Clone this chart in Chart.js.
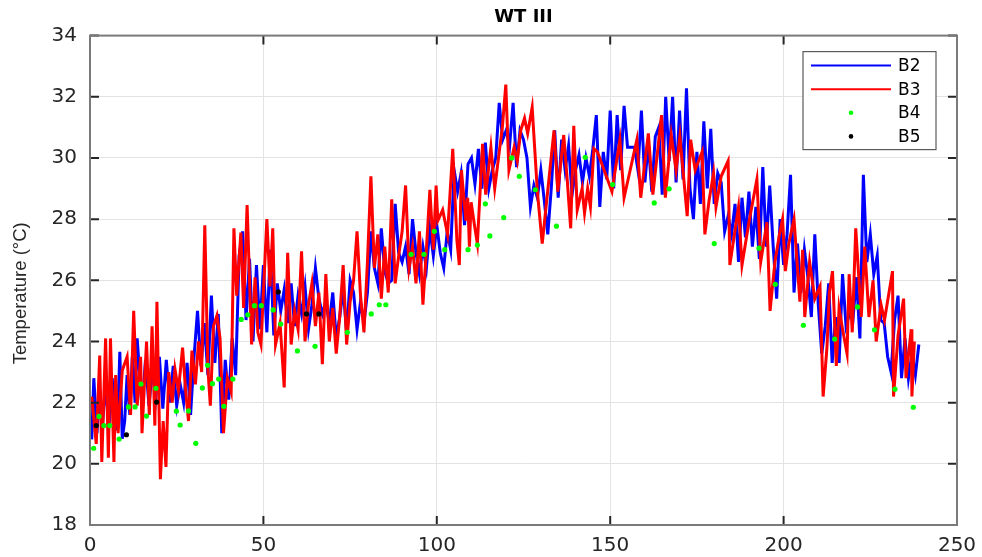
<!DOCTYPE html>
<html><head><meta charset="utf-8">
<script src="https://cdn.jsdelivr.net/npm/chart.js@4/dist/chart.umd.min.js"></script>
<style>html,body{margin:0;padding:0;background:#fff;}</style>
</head><body>
<canvas id="c" width="982" height="557"></canvas>
<script>
const chartTitle = 'WT III';
const yAxisTitle = 'Temperature (°C)';
const xTicks = [0, 50, 100, 150, 200, 250];
const yTicks = [18, 20, 22, 24, 26, 28, 30, 32, 34];
const seriesNames = ['B2', 'B3', 'B4', 'B5'];

const b2Days = [
  0.5,1.1,2,2.8,3.5,4.5,5.5,6.4,7.3,7.9,8.6,9.3,10,10.7,11.5,12.2,13,13.6,15,16,17,18,19,20,
  21,22,23,24,25,26,27,28,29,30,31,32,33,34,35,36,37,38,39,40,
  41,42,43,44,45,46,47,48,49,50,51,52,53,54,55,56,57,58,59,60,
  61,62,63,64,65,66,67,68,69,70,71,72,73,74,75,76,77,78,79,80,
  81,82,83,84,85,86,87,88,89,90,91,92,93,94,95,96,97,98,99,100,
  101,102,103,104,105,106,107,108,109,110,111,112,113,114,115,116,117,118,119,120,
  121,122,123,124,125,126,127,128,129,130,131,132,133,134,135,136,137,138,139,140,
  141,142,143,144,145,146,147,148,149,150,151,152,153,154,155,157,158,159,160,
  161,162,163,164,165,166,167,168,169,170,171,172,173,174,175,176,177,178,179,180,
  181,182,183,184,185,186,187,188,189,190,191,192,193,194,195,196,197,198,199,200,
  201,202,203,204,205,206,207,208,209,210,211,212,213,214,215,216,217,218,219,220,
  221,222,223,224,225,226,227,228,229,230,231,232,233,234,235,236,237,238,239
];
const b2Temps = [
  20.8,22.8,21.0,22.45,21.2,22.5,21.3,22.8,21.5,21.1,23.66,20.82,21.4,22.9,21.6,23.5,22.0,24.1,21.8,23.4,21.9,23.1,22.2,23.5,
  21.8,23.4,22.0,23.2,21.9,22.6,22.0,23.3,21.6,23.5, 25.0,23.2,24.6,22.9,25.5,23.3,24.9,21.0,23.4,22.1,
  24.1,22.9,26.8,27.6,24.7,26.7,24.0,26.5,24.4,26.5, 24.3,27.0,24.2,25.9,25.0,25.7,24.6,25.9,24.5,25.5,
  24.9,25.8,24.4,25.2,26.4,25.4,24.9,25.3,24.6,25.6, 24.1,24.8,25.7,24.3,26.0,25.6,24.4,25.3,24.6,25.6,
  27.6,26.4,25.9,27.7,26.3,25.9,26.0,28.5,26.9,26.6, 27.1,26.2,28.0,26.9,26.2,27.1,26.4,27.7,26.8,27.8,
  26.9,26.4,27.6,27.0,29.6,28.9,29.5,27.8,29.8,30.0, 29.15,30.3,29.0,30.5,29.0,29.6,30.0,31.8,30.6,30.9,
  30.4,31.8,29.7,30.9,30.6,30.0,28.4,29.1,28.7,29.6, 28.6,27.5,29.0,30.9,28.7,30.6,29.6,30.4,28.8,29.6,
  30.1,29.2,30.0,29.4,30.3,31.4,28.4,30.2,29.3,31.55, 29.0,31.4,29.6,31.7,30.35,30.35,29.6,31.55,29.2,
  30.5,28.9,30.7,31.0,28.8,32.0,29.9,32.0,29.2,31.55, 29.3,32.28,29.0,28.0,30.2,28.5,31.2,29.0,30.95,28.5,
  29.5,29.2,27.6,28.1,27.5,28.5,26.6,28.7,27.4,28.9, 27.1,28.4,26.7,29.7,27.1,29.1,27.1,25.4,28.0,26.5,
  27.5,29.45,25.6,27.2,25.6,27.0,26.1,24.8,27.5,25.2, 23.6,24.5,25.9,23.3,24.8,23.3,26.2,24.5,24.9,24.7,
  26.1,24.1,29.45,26.6,27.5,26.2,26.8,24.7,24.6,23.5, 23.0,24.7,25.5,22.8,24.1,22.8,23.6,22.9,23.9
];

const b3Days = [
  0.5,1.8,2.8,3.4,4.5,5.3,5.9,6.9,7.4,8.1,9.3,10.7,11.7,12.6,13.6,14.6,15,16.3,17.1,17.9,
  18.7,19.3,20.3,21.1,21.9,22.7,23.7,24.5,25.5,26.7,27.5,28.4,29.4,30.4,31.3,32.2,33.1,34,34.7,35.6,
  36.6,37.5,38.5,39.6,40.7,41.5,42.3,43.5,44.3,45.3,46.6,47.6,48.4,49.3,51,51.9,52.7,53.5,54.8,56,
  57,58,59,60,
  61,62,63,64,65,66,67,68,69,70,71,72,73,74,75,76,77,78,79,80,
  81,82,83,84,85,86,87,88,89,90,91,92,93,94,95,96,97,
  98,99,99.8,100.3,101.7,103.1,104.6,105.8,106.5,107.1,108.4,108.9,109.4,109.9,110.8,111.7,113.2,114.1,115.6,116.7,
  118,118.9,119.9,120.8,122.3,123.2,124.2,125.3,126.2,127.5,129,130.4,133.8,134.9,136.6,137.6,138.6,139.5,140.5,141.9,
  142.6,143.5,144.3,145.3,146.3,150.5,152.8,154,157.7,158.8,161,162.3,164.8,165.9,167.6,169,170.1,172.2,173.2,174.5,
  176.5,177.3,178.5,179.8,180.5,182,184,184.5,187,188,190,192.3,193.4,195.2,196.1,197.5,198.8,199.7,200.5,201.5,
  203,204.7,205.5,206.1,207.5,209,210.5,211.4,212.5,213.2,214.1,215.2,216,217,218.3,218.9,219.8,220.8,222.4,223.4,
  224.6,225.8,226.7,228.1,229.1,231.4,231.7,233,234.6,235.3,236.8,237,237.7
];
const b3Temps = [
  22.2,20.65,23.54,20.06,24.1,20.2,24.1,20.06,22.9,21.0,23.05,23.5,21.6,25.0,21.9,23.5,21.0,24.0,21.6,24.5,
  21.25,25.3,19.5,21.4,19.9,23.0,22.0,23.1,22.4,23.8,22.5,21.4,23.7,22.6,24.0,23.0,27.8,23.1,21.9,24.5,
  24.85,24.1,21.0,22.8,22.35,27.7,25.5,27.56,25.1,28.46,23.9,26.1,24.3,23.9,28.0,25.8,27.7,23.9,24.6,22.5,
  26.9,23.9,25.0,24.4,
  26.95,24.0,25.2,25.9,24.5,25.6,23.26,26.2,24.0,25.1, 23.6,24.8,26.5,23.9,25.3,26.0,27.6,25.5,24.3,26.6,
  29.4,26.4,27.5,25.4,27.1,25.6,28.65,25.9,26.8,27.6, 29.1,26.4,27.1,25.9,27.6,25.2,27.0,
  28.96,27.0,29.1,27.95,28.3,27.5,30.3,27.3,26.5,29.6, 27.95,28.7,27.1,28.55,27.85,27.2,30.46,28.8,30.35,29.0,
  30.2,31.0,32.4,29.6,30.35,29.9,30.9,31.3,30.8,31.65, 28.9,27.2,30.9,28.9,30.75,29.3,27.7,31.05,28.3,29.0,
  28.2,29.0,28.4,30.3,30.2,28.9,30.6,28.7,30.6,28.7, 30.8,28.8,31.4,28.7,30.75,29.6,30.7,28.1,30.6,29.6,
  30.2,27.5,28.6,29.5,28.4,29.4,29.9,26.5,28.4,26.5, 27.9,29.3,26.6,27.9,25.0,26.6,27.5,28.0,26.3,27.2,
  28.0,25.3,27.0,24.8,26.6,25.4,25.8,22.2,23.8,25.6, 26.3,23.2,25.1,24.4,23.6,26.2,24.3,27.7,24.8,27.1,
  24.8,26.0,24.0,25.2,24.7,26.3,22.2,24.2,25.4,22.8, 24.4,22.2,24.0
];

const b4Days = [1.05,2.6,4.0,5.7,8.4,11.1,13.0,14.7,16.3,19.0,24.9,26.0,28.4,30.5,32.4,33.9,35.3,37.1,38.6,41.2,
  43.6,45.5,47.4,49.4,52.8,55.0,59.8,64.9,74.2,81.1,83.4,85.3,92.6,96.3,99.3,102.3,109,111.7,114,115.3,
  119.3,121.6,123.8,128.4,134.5,142.8,150.7,162.7,167,180,192.9,197.6,205.7,214.7,221.3,226.2,232.1,237.4];
const b4Temps = [20.51,21.55,21.25,21.25,20.81,21.86,21.86,22.61,21.56,22.47,21.72,21.27,21.73,20.67,22.48,23.22,22.62,22.77,21.88,22.77,
  24.72,24.87,25.17,25.17,25.03,24.57,23.69,23.84,24.3,24.9,25.2,25.2,26.85,26.85,27.6,27.0,27.0,27.15,28.5,27.45,
  28.05,30.0,29.4,28.96,27.77,30.02,29.13,28.53,28.99,27.2,27.05,25.87,24.53,24.08,25.13,24.38,22.44,21.85];

const b5Days = [1.8, 10.5, 19.2, 54.3, 62.4, 66.0];
const b5Temps = [21.25, 20.95, 22.02, 25.62, 24.9, 24.9];

const pts = (xs, ys) => xs.map((x, i) => ({x: x, y: ys[i]}));

const frame = {
  id: 'frame',
  afterDatasetsDraw(chart) {
    const {ctx, chartArea: a, scales: {x, y}} = chart;
    ctx.save();
    ctx.strokeStyle = '#262626';
    ctx.lineWidth = 2;
    ctx.beginPath();
    x.ticks.forEach(t => {
      const px = x.getPixelForValue(t.value);
      ctx.moveTo(px, a.bottom); ctx.lineTo(px, a.bottom - 9);
      ctx.moveTo(px, a.top); ctx.lineTo(px, a.top + 9);
    });
    y.ticks.forEach(t => {
      const py = y.getPixelForValue(t.value);
      ctx.moveTo(a.left, py); ctx.lineTo(a.left + 9, py);
      ctx.moveTo(a.right, py); ctx.lineTo(a.right - 9, py);
    });
    ctx.stroke();
    ctx.strokeStyle = '#7a7a7a';
    ctx.lineWidth = 2;
    ctx.strokeRect(a.left, a.top, a.right - a.left, a.bottom - a.top);
    ctx.restore();
  }
};

const axisTitle = {
  id: 'axisTitle',
  afterDraw(chart) {
    const {ctx, chartArea: a} = chart;
    ctx.save();
    ctx.translate(21, (a.top + a.bottom) / 2 + 13);
    ctx.rotate(-Math.PI / 2);
    ctx.fillStyle = '#262626';
    ctx.font = '18.5px "Liberation Sans"';
    ctx.textAlign = 'center';
    ctx.textBaseline = 'middle';
    ctx.fillText(yAxisTitle, 0, 0);
    ctx.restore();
  }
};

const legendBox = {
  id: 'legendBox',
  afterDraw(chart) {
    const {ctx, chartArea: a} = chart;
    const w = 133, h = 98;
    const L = a.right - 21 - w, T = a.top + 16;
    ctx.save();
    ctx.fillStyle = '#ffffff';
    ctx.fillRect(L, T, w, h);
    ctx.strokeStyle = '#5a5a5a';
    ctx.lineWidth = 1.2;
    ctx.strokeRect(L, T, w, h);
    chart.data.datasets.forEach((ds, i) => {
      const cy = T + 14 + i * 23.6;
      if (ds.showLine) {
        ctx.strokeStyle = ds.borderColor;
        ctx.lineWidth = 2;
        ctx.beginPath(); ctx.moveTo(L + 8, cy); ctx.lineTo(L + 88, cy); ctx.stroke();
      } else {
        ctx.fillStyle = ds.pointBackgroundColor;
        ctx.beginPath(); ctx.arc(L + 48, cy, 2.3, 0, Math.PI * 2); ctx.fill();
      }
      ctx.fillStyle = '#000000';
      ctx.font = '17px "DejaVu Sans"';
      ctx.textBaseline = 'middle';
      ctx.textAlign = 'left';
      ctx.fillText(ds.label, L + 95, cy + 1);
    });
    ctx.restore();
  }
};

new Chart(document.getElementById('c'), {
  type: 'scatter',
  data: {
    datasets: [
      {label: seriesNames[0], data: pts(b2Days, b2Temps), showLine: true, borderColor: '#0000ff', backgroundColor: '#0000ff',
       borderWidth: 3, pointRadius: 0, order: 3},
      {label: seriesNames[1], data: pts(b3Days, b3Temps), showLine: true, borderColor: '#ff0000', backgroundColor: '#ff0000',
       borderWidth: 3, pointRadius: 0, order: 2},
      {label: seriesNames[2], data: pts(b4Days, b4Temps), showLine: false, pointRadius: 2.6, pointBorderWidth: 0,
       pointBackgroundColor: '#00ff00', backgroundColor: '#00ff00', order: 1},
      {label: seriesNames[3], data: pts(b5Days, b5Temps), showLine: false, pointRadius: 2.6, pointBorderWidth: 0,
       pointBackgroundColor: '#000000', backgroundColor: '#000000', order: 0}
    ]
  },
  options: {
    responsive: false,
    animation: false,
    devicePixelRatio: 1,
    layout: {padding: {left: 0, right: 25, top: 0, bottom: 0}},
    plugins: {
      legend: {display: false},
      tooltip: {enabled: false},
      title: {display: true, text: chartTitle, fullSize: false, color: '#000000',
        font: {family: 'DejaVu Sans', size: 18, weight: 'bold'}, padding: {top: 7, bottom: 7}}
    },
    scales: {
      x: {
        type: 'linear', min: 0, max: 250,
        afterBuildTicks: s => { s.ticks = xTicks.map(v => ({value: v})); },
        afterFit: s => { s.height = 32; s.paddingLeft = 0; s.paddingRight = 0; },
        grid: {color: '#e3e3e3', lineWidth: 1, drawTicks: false},
        border: {display: false},
        ticks: {color: '#262626', font: {family: 'DejaVu Sans', size: 20}, padding: 9, maxRotation: 0, autoSkip: false}
      },
      y: {
        type: 'linear', min: 18, max: 34,
        afterBuildTicks: s => { s.ticks = yTicks.map(v => ({value: v})); },
        afterFit: s => { s.width = 90; s.paddingTop = 0; s.paddingBottom = 0; },
        grid: {color: '#e3e3e3', lineWidth: 1, drawTicks: false},
        border: {display: false},
        ticks: {color: '#262626', font: {family: 'DejaVu Sans', size: 20}, padding: 13, autoSkip: false}
      }
    }
  },
  plugins: [frame, axisTitle, legendBox]
});
</script>
</body></html>
